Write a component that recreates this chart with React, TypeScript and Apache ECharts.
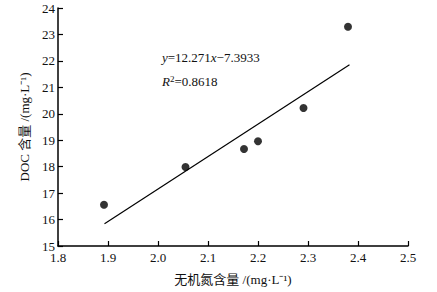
import React, { useEffect, useRef } from "react";
import * as echarts from "echarts";

const xTicks = [1.8, 1.9, 2.0, 2.1, 2.2, 2.3, 2.4, 2.5];
const yTicks = [15, 16, 17, 18, 19, 20, 21, 22, 23, 24];
const nitrogen = [1.892, 2.055, 2.172, 2.2, 2.291, 2.38];
const doc = [16.56, 17.99, 18.67, 18.96, 20.22, 23.29];
const fitX = [1.893, 2.383];
const fitY = [15.84, 21.85];

const serif = "'Liberation Serif', 'Times New Roman', 'Noto Sans CJK SC', serif";

export default function App() {
  const ref = useRef<HTMLDivElement>(null);
  useEffect(() => {
    if (!ref.current) return;
    const chart = echarts.init(ref.current, null, { renderer: "svg" });
    chart.setOption({
      animation: false,
      backgroundColor: "#fff",
      grid: { left: 58, right: 29, top: 8, bottom: 46 },
      xAxis: {
        type: "value",
        min: xTicks[0],
        max: xTicks[xTicks.length - 1],
        interval: 0.1,
        axisLine: { show: true, lineStyle: { color: "#000", width: 1.5 } },
        axisTick: { show: true, inside: true, length: 5, lineStyle: { color: "#000", width: 1.2 } },
        splitLine: { show: false },
        axisLabel: {
          color: "#111",
          fontFamily: serif,
          fontSize: 13,
          margin: 5,
          formatter: (v: number) => v.toFixed(1),
        },
        name: "无机氮含量 /(mg·L⁻¹)",
        nameLocation: "middle",
        nameGap: 27,
        nameTextStyle: { color: "#111", fontFamily: serif, fontSize: 13 },
      },
      yAxis: {
        type: "value",
        min: yTicks[0],
        max: yTicks[yTicks.length - 1],
        interval: 1,
        axisLine: { show: true, lineStyle: { color: "#000", width: 1.5 } },
        axisTick: { show: true, inside: true, length: 5, lineStyle: { color: "#000", width: 1.2 } },
        splitLine: { show: false },
        axisLabel: { color: "#111", fontFamily: serif, fontSize: 13, margin: 3 },
        name: "DOC 含量 /(mg·L⁻¹)",
        nameLocation: "middle",
        nameGap: 24,
        nameTextStyle: { color: "#111", fontFamily: serif, fontSize: 13 },
      },
      series: [
        {
          type: "scatter",
          data: nitrogen.map((x, i) => [x, doc[i]]),
          symbol: "circle",
          symbolSize: 8,
          itemStyle: { color: "#000" },
        },
        {
          type: "line",
          data: fitX.map((x, i) => [x, fitY[i]]),
          symbol: "none",
          lineStyle: { color: "#000", width: 1.2 },
        },
      ],
      graphic: [
        {
          type: "text",
          left: 162,
          top: 51,
          style: {
            text: "{i|y}=12.271{i|x}−7.3933",
            fontFamily: serif,
            fontSize: 13,
            fill: "#111",
            rich: { i: { fontStyle: "italic", fontFamily: serif, fontSize: 13 } },
          },
        },
        {
          type: "text",
          left: 162,
          top: 74,
          style: {
            text: "{i|R}{s|2}=0.8618",
            fontFamily: serif,
            fontSize: 13,
            fill: "#111",
            rich: {
              i: { fontStyle: "italic", fontFamily: serif, fontSize: 13 },
              s: { fontFamily: serif, fontSize: 9, verticalAlign: "top", padding: [0, 0, 6, 0] },
            },
          },
        },
      ],
    });
    return () => chart.dispose();
  }, []);
  return (
    <div
      ref={ref}
      style={{ position: "absolute", left: 0, top: 0, width: 437, height: 292 }}
    />
  );
}
